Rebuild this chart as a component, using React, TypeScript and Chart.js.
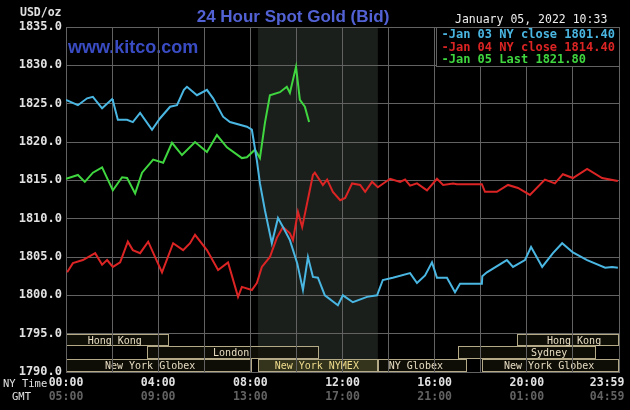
import React, { useEffect, useRef } from "react";
import { Chart, registerables } from "chart.js";

Chart.register(...registerables);

// ---- data (minutes after 00:00 NY time, price USD/oz) ----
const jan03Minutes = [0, 31, 55, 70, 94, 120, 122, 135, 159, 174, 193, 224, 245, 271, 289, 307, 315, 341, 367, 383, 409, 427, 471, 484, 497, 505, 518, 536, 552, 565, 583, 602, 617, 630, 643, 656, 674, 708, 721, 747, 784, 810, 825, 851, 896, 914, 935, 953, 966, 992, 1013, 1026, 1083, 1084, 1096, 1148, 1164, 1195, 1211, 1240, 1268, 1292, 1320, 1357, 1404, 1422, 1437];
const jan03Prices = [1825.5, 1824.8, 1825.7, 1825.9, 1824.4, 1825.6, 1825.4, 1822.9, 1822.9, 1822.6, 1823.8, 1821.6, 1823.1, 1824.6, 1824.8, 1826.8, 1827.2, 1826.1, 1826.8, 1825.7, 1823.3, 1822.6, 1822.0, 1821.6, 1817.6, 1814.6, 1811.1, 1806.8, 1810.1, 1808.9, 1807.2, 1804.2, 1800.7, 1805.0, 1802.4, 1802.3, 1800.0, 1798.7, 1800.0, 1799.1, 1799.8, 1800.0, 1802.0, 1802.3, 1802.9, 1801.6, 1802.6, 1804.3, 1802.3, 1802.3, 1800.4, 1801.5, 1801.5, 1802.5, 1803.0, 1804.6, 1803.7, 1804.6, 1806.3, 1803.7, 1805.5, 1806.8, 1805.6, 1804.6, 1803.6, 1803.7, 1803.6];

const jan04Minutes = [3, 18, 44, 76, 94, 107, 122, 141, 161, 174, 193, 214, 250, 279, 305, 323, 336, 367, 396, 422, 448, 458, 484, 497, 510, 531, 549, 565, 583, 591, 604, 615, 643, 648, 669, 680, 695, 714, 727, 745, 766, 779, 797, 812, 844, 870, 883, 896, 914, 940, 966, 982, 1008, 1018, 1083, 1091, 1122, 1151, 1177, 1208, 1247, 1273, 1294, 1320, 1357, 1396, 1437];
const jan04Prices = [1803.0, 1804.2, 1804.6, 1805.5, 1804.0, 1804.6, 1803.7, 1804.3, 1807.0, 1805.9, 1805.5, 1807.0, 1803.0, 1806.8, 1805.9, 1806.8, 1807.9, 1805.9, 1803.3, 1804.3, 1799.8, 1801.1, 1800.7, 1801.6, 1803.7, 1805.0, 1807.5, 1808.9, 1808.1, 1807.2, 1810.9, 1808.9, 1815.7, 1816.0, 1814.4, 1815.1, 1813.5, 1812.4, 1812.7, 1814.6, 1814.4, 1813.5, 1814.8, 1814.1, 1815.2, 1814.8, 1815.1, 1814.3, 1814.6, 1813.7, 1815.2, 1814.4, 1814.6, 1814.5, 1814.5, 1813.5, 1813.5, 1814.4, 1814.0, 1813.1, 1815.1, 1814.6, 1815.8, 1815.3, 1816.5, 1815.3, 1814.9];

const jan05Minutes = [0, 31, 49, 70, 94, 122, 146, 159, 180, 198, 227, 253, 276, 302, 336, 367, 393, 419, 458, 471, 492, 505, 518, 531, 557, 575, 583, 599, 609, 622, 633];
const jan05Prices = [1815.2, 1815.7, 1814.8, 1816.0, 1816.7, 1813.7, 1815.4, 1815.3, 1813.3, 1816.0, 1817.7, 1817.3, 1819.9, 1818.3, 1820.0, 1818.7, 1820.9, 1819.3, 1817.9, 1818.0, 1819.0, 1817.9, 1822.5, 1826.1, 1826.5, 1827.2, 1826.4, 1829.8, 1825.5, 1824.6, 1822.6];

const seriesNames = ["Jan 03 NY close 1801.40", "Jan 04 NY close 1814.40", "Jan 05 Last 1821.80"];

const priceMin = 1790;
const priceMax = 1835;
const priceStep = 5;
const dayMinutes = 1440;
const gridMinutes = [0, 120, 240, 360, 480, 600, 720, 840, 960, 1080, 1200, 1320, 1440];
const nyTickMinutes = [0, 240, 480, 720, 960, 1200, 1409];
const nyTickLabels = ["00:00", "04:00", "08:00", "12:00", "16:00", "20:00", "23:59"];
const gmtTickLabels = ["05:00", "09:00", "13:00", "17:00", "21:00", "01:00", "04:59"];

const sessionNames = ["Hong Kong", "Hong Kong", "London", "Sydney", "New York Globex", "New York NYMEX", "NY Globex", "New York Globex"];
const sessionStarts = [0, 1174, 211, 1021, 0, 500, 812, 1083];
const sessionEnds = [268, 1440, 659, 1380, 484, 812, 1044, 1440];
const sessionRows = [0, 0, 1, 1, 2, 2, 2, 2];
const sessionLabelAt = [127, 1323, 430, 1258, 219, 653, 911, 1258];
const nymexStart = 500;
const nymexEnd = 812;

const titleText = "24 Hour Spot Gold (Bid)";
const dateText = "January 05, 2022 10:33";
const unitText = "USD/oz";

const COLORS = ["#4ab6e2", "#dc2424", "#3fd63f"];
const GRID = "#626262";
const MONO = "'DejaVu Sans Mono', monospace";

const toPoints = (xs: number[], ys: number[]) => xs.map((x, i) => ({ x, y: ys[i] }));

const decorPlugin = {
  id: "kitcoDecor",
  beforeDraw(chart: any) {
    const { ctx, chartArea: a, scales } = chart;
    const xs = scales.x;
    const ys = scales.y;
    ctx.save();
    ctx.fillStyle = "#000";
    ctx.fillRect(0, 0, chart.width, chart.height);

    // NYMEX shading
    const sx0 = xs.getPixelForValue(nymexStart);
    const sx1 = xs.getPixelForValue(nymexEnd);
    ctx.fillStyle = "#1b1f1b";
    ctx.fillRect(sx0, a.top, sx1 - sx0, a.bottom - a.top);

    // watermark
    ctx.fillStyle = "#3a4cc4";
    ctx.font = "bold 18px 'Liberation Sans', Arial, sans-serif";
    ctx.textAlign = "left";
    ctx.textBaseline = "middle";
    ctx.fillText("www.kitco.com", a.left + 2, 48);

    // trading sessions
    const top = ys.getPixelForValue(priceMin + priceStep);
    const bottom = ys.getPixelForValue(priceMin);
    const rh = (bottom - top) / 3;
    ctx.font = `10px ${MONO}`;
    ctx.textAlign = "center";
    ctx.textBaseline = "middle";
    sessionNames.forEach((name, i) => {
      const x0 = Math.round(xs.getPixelForValue(sessionStarts[i])) + 0.5;
      const x1 = Math.round(xs.getPixelForValue(sessionEnds[i])) - 0.5;
      const y0 = Math.round(top + rh * sessionRows[i]) + 0.5;
      const y1 = Math.round(top + rh * (sessionRows[i] + 1)) - 0.5;
      const nymex = name.indexOf("NYMEX") >= 0;
      ctx.fillStyle = nymex ? "rgba(85,76,30,0.45)" : "rgba(20,18,8,0.7)";
      ctx.fillRect(x0, y0, x1 - x0, y1 - y0);
      ctx.strokeStyle = "#b4aa88";
      ctx.lineWidth = 1;
      ctx.strokeRect(x0, y0, x1 - x0, y1 - y0);
      ctx.fillStyle = nymex ? "#eedc8c" : "#e6dcc2";
      ctx.fillText(name, xs.getPixelForValue(sessionLabelAt[i]), (y0 + y1) / 2 + 1);
    });
    ctx.restore();
  },
  afterDraw(chart: any) {
    const { ctx, chartArea: a } = chart;
    ctx.save();
    // legend box
    const lw = 183;
    const lh = 39;
    const lx = Math.round(a.right - lw) + 0.5;
    const ly = Math.round(a.top) + 0.5;
    ctx.fillStyle = "#000";
    ctx.fillRect(lx, ly, lw, lh);
    ctx.strokeStyle = GRID;
    ctx.lineWidth = 1;
    ctx.strokeRect(lx, ly, lw, lh);
    ctx.font = `bold 12px ${MONO}`;
    ctx.textAlign = "left";
    ctx.textBaseline = "middle";
    seriesNames.forEach((n, i) => {
      ctx.fillStyle = COLORS[i];
      ctx.fillText("-" + n, lx + 5, ly + 7.5 + i * 12.5);
    });

    // title
    ctx.fillStyle = "#5262d4";
    ctx.font = "bold 17px 'Liberation Sans', Arial, sans-serif";
    ctx.textAlign = "center";
    ctx.textBaseline = "alphabetic";
    ctx.fillText(titleText, 293, 22);

    // date
    ctx.fillStyle = "#eeeeee";
    ctx.font = `11.5px ${MONO}`;
    ctx.textAlign = "left";
    ctx.textBaseline = "middle";
    ctx.fillText(dateText, 455, 20);

    // unit
    ctx.fillStyle = "#e0e0e0";
    ctx.font = `bold 11.5px ${MONO}`;
    ctx.fillText(unitText, 20, 13);

    // axis row titles
    ctx.font = `10.5px ${MONO}`;
    ctx.fillStyle = "#e0e0e0";
    ctx.fillText("NY Time", 3, 384);
    ctx.fillText("GMT", 12, 397);
    ctx.restore();
  },
};

export default function App() {
  const ref = useRef<HTMLCanvasElement | null>(null);

  useEffect(() => {
    const canvas = ref.current;
    if (!canvas) return;
    const chart = new Chart(canvas, {
      type: "line",
      data: {
        datasets: [
          { label: seriesNames[0], data: toPoints(jan03Minutes, jan03Prices), borderColor: COLORS[0] },
          { label: seriesNames[1], data: toPoints(jan04Minutes, jan04Prices), borderColor: COLORS[1] },
          { label: seriesNames[2], data: toPoints(jan05Minutes, jan05Prices), borderColor: COLORS[2] },
        ].map((d) => ({
          ...d,
          borderWidth: 2,
          pointRadius: 0,
          tension: 0,
          fill: false,
          xAxisID: "x",
          yAxisID: "y",
        })),
      },
      options: {
        responsive: false,
        animation: false,
        devicePixelRatio: 1,
        events: [],
        layout: { padding: { left: 0, top: 27, right: 11, bottom: 10 } },
        plugins: { legend: { display: false }, tooltip: { enabled: false }, title: { display: false } },
        scales: {
          x: {
            type: "linear",
            position: "bottom",
            min: 0,
            max: dayMinutes,
            grid: { color: GRID, drawTicks: false, lineWidth: 1 },
            border: { color: GRID },
            ticks: { display: false },
            afterBuildTicks: (s: any) => {
              s.ticks = gridMinutes.map((v) => ({ value: v }));
            },
            afterFit: (s: any) => {
              s.height = 0;
            },
          },
          xny: {
            type: "linear",
            position: "bottom",
            min: 0,
            max: dayMinutes,
            grid: { display: false, drawTicks: false },
            border: { display: false },
            ticks: {
              autoSkip: false,
              maxRotation: 0,
              minRotation: 0,
              padding: 4,
              color: "#e2e2e2",
              font: { family: MONO, size: 11.5, weight: "bold" },
              callback: (_v: any, i: number) => nyTickLabels[i],
            },
            afterBuildTicks: (s: any) => {
              s.ticks = nyTickMinutes.map((v) => ({ value: v }));
            },
            afterFit: (s: any) => {
              s.height = 14;
            },
          },
          xgmt: {
            type: "linear",
            position: "bottom",
            min: 0,
            max: dayMinutes,
            grid: { display: false, drawTicks: false },
            border: { display: false },
            ticks: {
              autoSkip: false,
              maxRotation: 0,
              minRotation: 0,
              padding: 4,
              color: "#626262",
              font: { family: MONO, size: 11.5, weight: "bold" },
              callback: (_v: any, i: number) => gmtTickLabels[i],
            },
            afterBuildTicks: (s: any) => {
              s.ticks = nyTickMinutes.map((v) => ({ value: v }));
            },
            afterFit: (s: any) => {
              s.height = 14;
            },
          },
          y: {
            type: "linear",
            position: "left",
            min: priceMin,
            max: priceMax,
            grid: { color: GRID, drawTicks: false, lineWidth: 1 },
            border: { color: GRID },
            ticks: {
              stepSize: priceStep,
              padding: 4,
              color: "#e2e2e2",
              font: { family: MONO, size: 12, weight: "bold" },
              callback: (v: any) => Number(v).toFixed(1),
            },
            afterFit: (s: any) => {
              s.width = 66;
            },
          },
        },
      },
      plugins: [decorPlugin],
    } as any);
    return () => chart.destroy();
  }, []);

  return (
    <div style={{ position: "fixed", left: 0, top: 0, width: 630, height: 410, background: "#000" }}>
      <canvas ref={ref} width={630} height={410} style={{ display: "block" }} />
    </div>
  );
}
